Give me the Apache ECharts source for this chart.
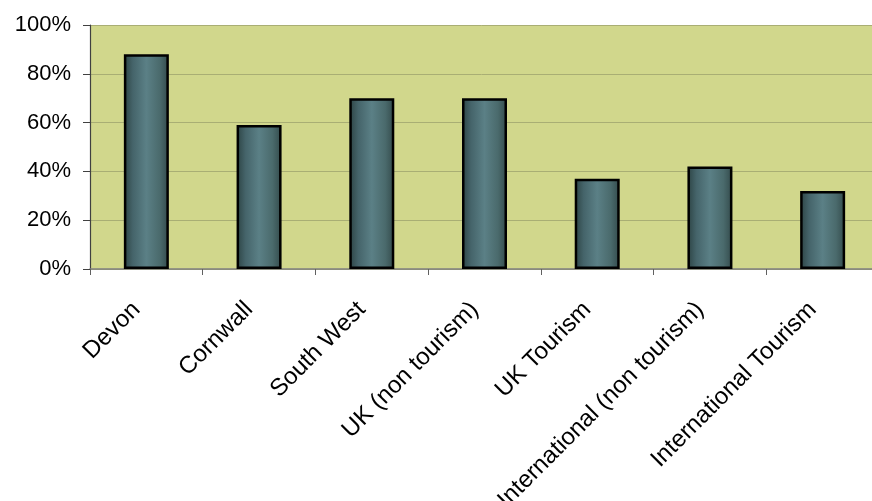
<!DOCTYPE html>
<html>
<head>
<meta charset="utf-8">
<script src="https://cdn.jsdelivr.net/npm/echarts@6/dist/echarts.min.js"></script>
<style>
  html, body { margin: 0; padding: 0; background: #ffffff; }
  #chart { width: 872px; height: 501px; }
</style>
</head>
<body>
<div id="chart"></div>
<script>
// Share of respondents by group
const categories = [
  'Devon',
  'Cornwall',
  'South West',
  'UK (non tourism)',
  'UK Tourism',
  'International (non tourism)',
  'International Tourism'
];
const values = [88, 59, 70, 70, 37, 42, 32];
const yTicks = { min: 0, max: 100, interval: 20 };

const barFill = new echarts.graphic.LinearGradient(0, 0, 1, 0, [
  { offset: 0, color: '#2c4343' },
  { offset: 0.2, color: '#45646a' },
  { offset: 0.5, color: '#5b8086' },
  { offset: 0.8, color: '#4a6a6c' },
  { offset: 1, color: '#334a4b' }
]);

const chart = echarts.init(document.getElementById('chart'), null, { renderer: 'canvas' });
chart.setOption({
  animation: false,
  backgroundColor: '#ffffff',
  textStyle: { fontFamily: 'Liberation Sans, Arial, sans-serif' },
  grid: {
    left: 90, top: 25, width: 789, height: 244,
    containLabel: false, outerBoundsMode: 'none',
    show: true, backgroundColor: '#d1d78c', borderWidth: 0
  },
  xAxis: {
    type: 'category',
    data: categories,
    boundaryGap: true,
    axisLine: { lineStyle: { color: '#808080', width: 1.5 } },
    axisTick: { show: true, length: 6, lineStyle: { color: '#606060' } },
    axisLabel: {
      rotate: 45, margin: 27, padding: [0, 14, 0, 0], color: '#000000', fontSize: 24,
      fontFamily: 'Liberation Sans, Arial, sans-serif', interval: 0
    }
  },
  yAxis: {
    type: 'value',
    min: yTicks.min, max: yTicks.max, interval: yTicks.interval,
    axisLine: { show: true, lineStyle: { color: '#404040', width: 1.2 } },
    axisTick: { show: true, length: 7, lineStyle: { color: '#404040' } },
    axisLabel: {
      formatter: '{value}%', margin: 19, color: '#000000', fontSize: 22,
      fontFamily: 'Liberation Sans, Arial, sans-serif'
    },
    splitLine: { show: true, lineStyle: { color: '#a9ae74', width: 1 } }
  },
  series: [{
    type: 'bar',
    data: values,
    barWidth: 45,
    itemStyle: { color: barFill, borderColor: '#000000', borderWidth: 2.5 }
  }]
});
</script>
</body>
</html>
